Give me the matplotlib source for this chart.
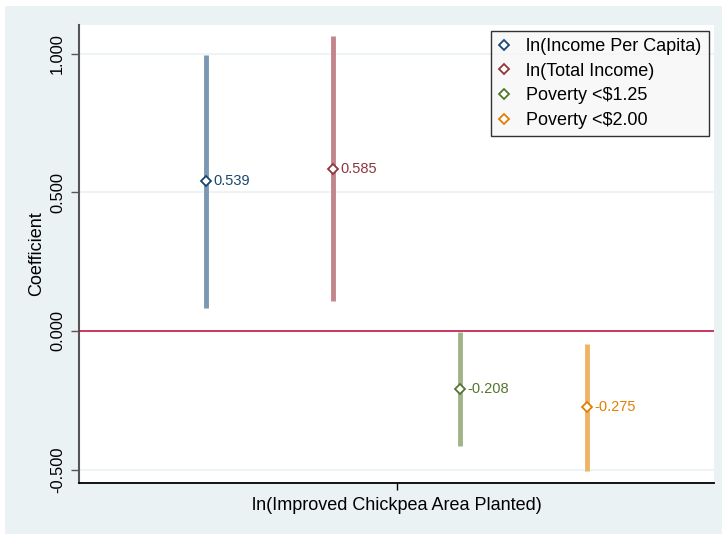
import matplotlib
matplotlib.use("Agg")
import matplotlib.pyplot as plt
from matplotlib.patches import Rectangle

plt.rcParams['font.family'] = ['Liberation Sans', 'DejaVu Sans']

# coefficient estimates with 95% intervals
series = ['ln(Income Per Capita)', 'ln(Total Income)', r'Poverty <\$1.25', r'Poverty <\$2.00']
positions = [1, 2, 3, 4]
coef = [0.539, 0.585, -0.208, -0.275]
ci_low = [0.083, 0.108, -0.413, -0.505]
ci_high = [0.995, 1.063, -0.003, -0.047]
yticks = [-0.5, 0.0, 0.5, 1.0]
xlabel = 'ln(Improved Chickpea Area Planted)'

marker_colors = ['#1a476f', '#90353b', '#55752f', '#e37e00']
bar_colors = ['#7b97b3', '#c2868a', '#a0b48a', '#efb366']
bg = '#eaf2f3'

fig = plt.figure(figsize=(7.27, 5.34), dpi=100, facecolor='white')
fig.patches.append(Rectangle((5 / 727, 0), 717 / 727, 528 / 534,
                             transform=fig.transFigure, facecolor=bg,
                             edgecolor='none', zorder=-10))
ax = fig.add_axes([79 / 727, 1 - 483 / 534, 635 / 727, 458 / 534])
ax.set_facecolor('white')

for y in yticks:
    ax.axhline(y, color=bg, lw=1.2, zorder=0)
ax.axhline(0, color='#c10534', lw=1.1, zorder=3)

for i in range(len(series)):
    ax.vlines(positions[i], ci_low[i], ci_high[i], color=bar_colors[i],
              lw=3.5, zorder=2)
    ax.plot(positions[i], coef[i], marker='D', ms=5, mfc='white',
            mec=marker_colors[i], mew=1.3, ls='none', zorder=4,
            label=series[i])
    ax.annotate('%.3f' % coef[i], (positions[i], coef[i]), xytext=(5, 0),
                textcoords='offset points', va='center', ha='left',
                color=marker_colors[i], fontsize=10.5)

ax.set_xlim(0, 5)
ax.set_ylim(-0.548, 1.103)
ax.set_yticks(yticks)
ax.set_yticklabels(['%.3f' % v for v in yticks], rotation=90, va='center')
ax.set_xticks([2.5])
ax.set_xticklabels([xlabel])
ax.tick_params(axis='y', length=6, width=1, color='#555555', pad=4,
               labelsize=11.8)
ax.tick_params(axis='x', length=5, width=1, color='black', pad=5,
               labelsize=13)

ax.set_ylabel('Coefficient', fontsize=13)
ax.yaxis.set_label_coords(-0.054, 0.5)

for s in ['top', 'right']:
    ax.spines[s].set_visible(False)
ax.spines['left'].set_color('#555555')
ax.spines['left'].set_linewidth(1.5)
ax.spines['bottom'].set_color('black')
ax.spines['bottom'].set_linewidth(1.3)

leg = ax.legend(loc='upper right', bbox_to_anchor=(0.992, 0.987),
                fontsize=13, frameon=True, fancybox=False, handlelength=0.6,
                handletextpad=0.95, labelspacing=0.42, borderpad=0.4,
                borderaxespad=0)
leg.get_frame().set_edgecolor('black')
leg.get_frame().set_linewidth(1.0)
leg.get_frame().set_facecolor('#f7f7f7')

fig.savefig('out.png', dpi=100, facecolor=fig.get_facecolor())
